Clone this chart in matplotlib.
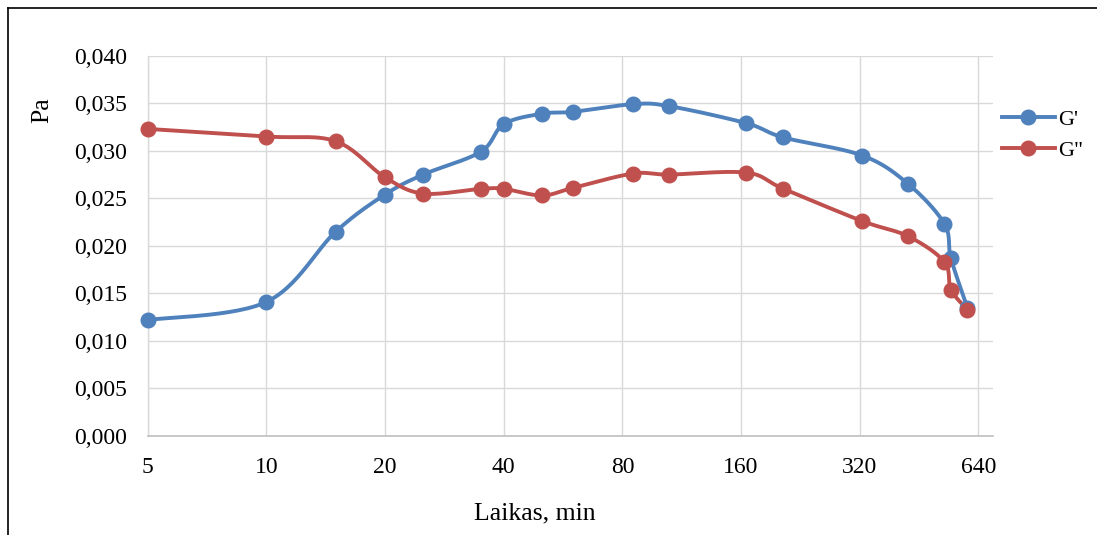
import numpy as np
import matplotlib
matplotlib.use("Agg")
import matplotlib.pyplot as plt
from matplotlib.lines import Line2D
from matplotlib.ticker import FuncFormatter, FixedLocator, NullLocator

# data
laikas = [5, 10, 15, 20, 25, 35, 40, 50, 60, 85, 105, 165, 205, 325, 425, 525, 545, 600]
g_prime = [0.0122, 0.0141, 0.0215, 0.0254, 0.0275, 0.0299, 0.0328, 0.0339, 0.0341,
           0.0349, 0.0347, 0.0329, 0.0314, 0.0295, 0.0265, 0.0223, 0.0187, 0.0135]
g_dprime = [0.0323, 0.0315, 0.0310, 0.0272, 0.0255, 0.0260, 0.0260, 0.0253, 0.0261,
            0.0276, 0.0275, 0.0277, 0.0260, 0.0226, 0.0210, 0.0183, 0.0154, 0.0133]
x_ticks = [5, 10, 20, 40, 80, 160, 320, 640]
y_ticks = [0.0, 0.005, 0.010, 0.015, 0.020, 0.025, 0.030, 0.035, 0.040]

BLUE = "#4F81BD"
RED = "#C0504D"

plt.rcParams['font.family'] = ['Liberation Serif', 'DejaVu Serif']

# px per unit, used to smooth lines in screen-like space (like Excel does)
SX, SY = 118.66, 9508.0


def smooth(xs, ys, n=30):
    P = np.column_stack([np.log2(xs) * SX, np.asarray(ys) * SY])
    out = []
    for i in range(len(P) - 1):
        p0 = P[i - 1] if i > 0 else P[i]
        p3 = P[i + 2] if i + 2 < len(P) else P[i + 1]
        c1 = P[i] + (P[i + 1] - p0) / 6
        c2 = P[i + 1] - (p3 - P[i]) / 6
        t = np.linspace(0, 1, n)[:, None]
        seg = ((1 - t) ** 3 * P[i] + 3 * (1 - t) ** 2 * t * c1
               + 3 * (1 - t) * t ** 2 * c2 + t ** 3 * P[i + 1])
        out.append(seg if i == 0 else seg[1:])
    out = np.vstack(out)
    return 2 ** (out[:, 0] / SX), out[:, 1] / SY


fig = plt.figure(figsize=(10.97, 5.35), dpi=100)
ax = fig.add_axes([147.7 / 1097, 1 - 436 / 535, (993 - 147.7) / 1097, (436 - 55.7) / 535])

for ys, c in [(g_prime, BLUE), (g_dprime, RED)]:
    sx, sy = smooth(laikas, ys)
    ax.plot(sx, sy, color=c, lw=2.8, solid_capstyle='round', zorder=3)
    ax.plot(laikas, ys, 'o', color=c, ms=10.5, zorder=4, clip_on=False)

ax.set_xscale('log', base=2)
ax.set_xlim(5, 697)
ax.set_ylim(0, 0.04)
ax.xaxis.set_major_locator(FixedLocator(x_ticks))
ax.xaxis.set_minor_locator(NullLocator())
ax.xaxis.set_major_formatter(FuncFormatter(lambda v, p: f"{v:g}"))
ax.set_yticks(y_ticks)
ax.yaxis.set_major_formatter(FuncFormatter(lambda v, p: f"{v:.3f}".replace('.', ',')))
ax.tick_params(length=0, pad=15, labelsize=17)

ax.grid(True, color='#D9D9D9', lw=1.0)
ax.set_axisbelow(True)
for s in ['top', 'right']:
    ax.spines[s].set_visible(False)
ax.spines['left'].set_color('#D9D9D9')
ax.spines['bottom'].set_color('#BFBFBF')
ax.spines['left'].set_linewidth(1.0)
ax.spines['bottom'].set_linewidth(1.2)

fig.text(42 / 1097, 1 - 110 / 535, 'Pa', rotation=90, ha='center', va='center', fontsize=18.5)
fig.text(535 / 1097, 1 - 519 / 535, 'Laikas, min', ha='center', va='baseline', fontsize=18.5)

handles = [Line2D([], [], color=BLUE, lw=2.8, marker='o', ms=10.5),
           Line2D([], [], color=RED, lw=2.8, marker='o', ms=10.5)]
fig.legend(handles, ["G'", 'G"'], loc='center left', bbox_to_anchor=(1001.7 / 1097, 1 - 135 / 535),
           frameon=False, fontsize=16, handlelength=2.4, handletextpad=0.15,
           labelspacing=0.45, borderpad=0, borderaxespad=0)

# outer chart frame (only left and top edges are visible)
fig.add_artist(Line2D([8 / 1097, 8 / 1097], [0, 1 - 8 / 535], color='black', lw=1.2))
fig.add_artist(Line2D([8 / 1097, 1], [1 - 8 / 535, 1 - 8 / 535], color='black', lw=1.2))

fig.savefig('out.png', dpi=100)
